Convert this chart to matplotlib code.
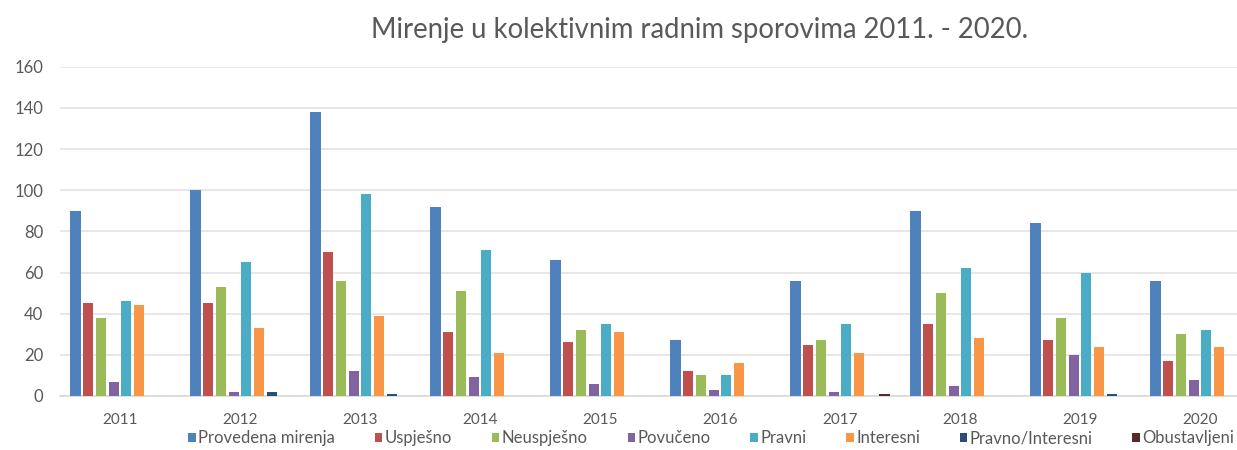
import matplotlib
matplotlib.use("Agg")
import matplotlib.pyplot as plt
import numpy as np

years = ["2011", "2012", "2013", "2014", "2015", "2016", "2017", "2018", "2019", "2020"]
series_names = ["Provedena mirenja", "Uspješno", "Neuspješno", "Povučeno", "Pravni",
                "Interesni", "Pravno/Interesni", "Obustavljeni"]
provedena = [90, 100, 138, 92, 66, 27, 56, 90, 84, 56]
uspjesno = [45, 45, 70, 31, 26, 12, 25, 35, 27, 17]
neuspjesno = [38, 53, 56, 51, 32, 10, 27, 50, 38, 30]
povuceno = [7, 2, 12, 9, 6, 3, 2, 5, 20, 8]
pravni = [46, 65, 98, 71, 35, 10, 35, 62, 60, 32]
interesni = [44, 33, 39, 21, 31, 16, 21, 28, 24, 24]
pravno_interesni = [0, 2, 1, 0, 0, 0, 0, 0, 1, 0]
obustavljeni = [0, 0, 0, 0, 0, 0, 1, 0, 0, 0]
yticks = [0, 20, 40, 60, 80, 100, 120, 140, 160]

data = [provedena, uspjesno, neuspjesno, povuceno, pravni, interesni,
        pravno_interesni, obustavljeni]
colors = ["#4F81BD", "#C0504D", "#9BBB59", "#8064A2", "#4BACC6", "#F79646",
          "#2C4D75", "#5A2A2A"]

plt.rcParams['font.family'] = ['Lato', 'DejaVu Sans']

W, H = 1237, 450
fig = plt.figure(figsize=(W / 100, H / 100), dpi=100)
ax = fig.add_axes([60 / W, (H - 396) / H, 1200 / W, (396 - 66.7) / H])

x = np.arange(len(years))
pitch = 0.106
bw = 0.085
for k, (vals, c, name) in enumerate(zip(data, colors, series_names)):
    ax.bar(x + (k - 3.5) * pitch, vals, width=bw, color=c, label=name, zorder=3)

ax.set_xlim(-0.5, len(years) - 0.5)
ax.set_ylim(0, 160)
ax.set_yticks(yticks)
ax.set_xticks(x)
ax.set_xticklabels(years)
ax.grid(axis='y', color='#E3E3E3', linewidth=1.2, zorder=0)
ax.set_axisbelow(True)
for s in ['top', 'right', 'left']:
    ax.spines[s].set_visible(False)
ax.spines['bottom'].set_color('#D9D9D9')
ax.spines['bottom'].set_linewidth(1.2)
ax.tick_params(axis='both', length=0, colors='#595959')
ax.tick_params(axis='y', pad=12, labelsize=12)
ax.tick_params(axis='x', pad=12, labelsize=11)

fig.text(700 / W, 1 - 30 / H, "Mirenje u kolektivnim radnim sporovima 2011. - 2020.",
         ha='center', va='center', fontsize=19.8, color='#595959')

leg = fig.legend(loc='center left', bbox_to_anchor=(180 / W, 1 - 438 / H), ncol=8,
                 frameon=False, fontsize=12, handlelength=0.45, handleheight=0.45,
                 handletextpad=0.15, columnspacing=2.38, borderpad=0,
                 labelcolor='#595959')

fig.savefig("out.png", dpi=100)
